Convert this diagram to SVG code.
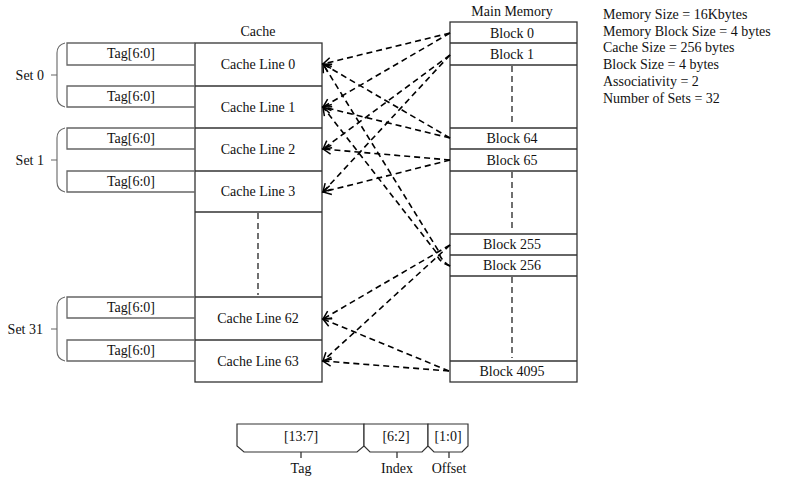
<svg xmlns="http://www.w3.org/2000/svg" width="800" height="483" viewBox="0 0 800 483">
<defs>
<marker id="arr" markerUnits="userSpaceOnUse" markerWidth="14" markerHeight="14" viewBox="-10 -7 12 14" refX="0" refY="0" orient="auto">
<path d="M-8,-4.5 L0,0 L-8,4.5" fill="none" stroke="#000" stroke-width="1.5"/>
</marker>
</defs>
<style>
text{font-family:"Liberation Serif","DejaVu Serif",serif;font-size:14px;fill:#111}
.c{text-anchor:middle}
.box{fill:#fff;stroke:#333;stroke-width:1.3}
.tag{fill:none;stroke:#666;stroke-width:1.3}
.sep{stroke:#333;stroke-width:1.3}
.vd{stroke:#111;stroke-width:1.2;stroke-dasharray:6 4;fill:none}
.br{fill:none;stroke:#666;stroke-width:1.1}
.cn{fill:none;stroke:#000;stroke-width:1.6;stroke-dasharray:6 4;marker-end:url(#arr)}
.fld{fill:#fff;stroke:#333;stroke-width:1.2}
</style>
<rect width="800" height="483" fill="#fff"/>

<g id="cache">
<text class="c" x="258" y="36">Cache</text>
<rect class="box" x="195" y="43" width="127" height="339"/>
<line class="sep" x1="195" y1="86" x2="322" y2="86"/>
<line class="sep" x1="195" y1="128" x2="322" y2="128"/>
<line class="sep" x1="195" y1="171" x2="322" y2="171"/>
<line class="sep" x1="195" y1="212" x2="322" y2="212"/>
<line class="sep" x1="195" y1="297" x2="322" y2="297"/>
<line class="sep" x1="195" y1="340" x2="322" y2="340"/>
<line class="vd" x1="258" y1="213" x2="258" y2="295"/>
</g>
<g id="cache-line-0"><text class="c" x="258" y="69">Cache Line 0</text></g>
<g id="cache-line-1"><text class="c" x="258" y="112">Cache Line 1</text></g>
<g id="cache-line-2"><text class="c" x="258" y="154">Cache Line 2</text></g>
<g id="cache-line-3"><text class="c" x="258" y="196">Cache Line 3</text></g>
<g id="cache-line-62"><text class="c" x="258" y="323">Cache Line 62</text></g>
<g id="cache-line-63"><text class="c" x="258" y="366">Cache Line 63</text></g>

<g id="tags">
<path class="tag" d="M195,43 H67 V65 H195"/><text class="c" x="131" y="58">Tag[6:0]</text>
<path class="tag" d="M195,86 H67 V107 H195"/><text class="c" x="131" y="101">Tag[6:0]</text>
<path class="tag" d="M195,128 H67 V149 H195"/><text class="c" x="131" y="143">Tag[6:0]</text>
<path class="tag" d="M195,171 H67 V192 H195"/><text class="c" x="131" y="186">Tag[6:0]</text>
<path class="tag" d="M195,297 H67 V318 H195"/><text class="c" x="131" y="312">Tag[6:0]</text>
<path class="tag" d="M195,340 H67 V361 H195"/><text class="c" x="131" y="355">Tag[6:0]</text>
</g>

<g id="set-0">
<path class="br" d="M65,43 Q57,45 57,53 V97 Q57,105 65,107 M51,75 H57"/>
<text x="44" y="80" text-anchor="end">Set 0</text>
</g>
<g id="set-1">
<path class="br" d="M65,128 Q57,130 57,138 V182 Q57,190 65,192 M51,160 H57"/>
<text x="44" y="165" text-anchor="end">Set 1</text>
</g>
<g id="set-31">
<path class="br" d="M65,297 Q57,299 57,307 V351 Q57,359 65,361 M51,329 H57"/>
<text x="43" y="334" text-anchor="end">Set 31</text>
</g>

<g id="main-memory">
<text class="c" x="512" y="16">Main Memory</text>
<rect class="box" x="450" y="22" width="127" height="360"/>
<line class="sep" x1="450" y1="43" x2="577" y2="43"/>
<line class="sep" x1="450" y1="65" x2="577" y2="65"/>
<line class="sep" x1="450" y1="128" x2="577" y2="128"/>
<line class="sep" x1="450" y1="149" x2="577" y2="149"/>
<line class="sep" x1="450" y1="171" x2="577" y2="171"/>
<line class="sep" x1="450" y1="234" x2="577" y2="234"/>
<line class="sep" x1="450" y1="255" x2="577" y2="255"/>
<line class="sep" x1="450" y1="276" x2="577" y2="276"/>
<line class="sep" x1="450" y1="361" x2="577" y2="361"/>
<line class="vd" x1="512" y1="66" x2="512" y2="125"/>
<line class="vd" x1="512" y1="172" x2="512" y2="231"/>
<line class="vd" x1="512" y1="277" x2="512" y2="358"/>
</g>
<g id="block-0"><text class="c" x="512" y="38">Block 0</text></g>
<g id="block-1"><text class="c" x="512" y="59">Block 1</text></g>
<g id="block-64"><text class="c" x="512" y="143">Block 64</text></g>
<g id="block-65"><text class="c" x="512" y="165">Block 65</text></g>
<g id="block-255"><text class="c" x="512" y="249">Block 255</text></g>
<g id="block-256"><text class="c" x="512" y="270">Block 256</text></g>
<g id="block-4095"><text class="c" x="512" y="376">Block 4095</text></g>

<g id="connectors">
<path class="cn" d="M450,33 L323,64"/>
<path class="cn" d="M450,33 L323,107"/>
<path class="cn" d="M450,55 L323,149"/>
<path class="cn" d="M450,55 L323,192"/>
<path class="cn" d="M450,138 L323,64"/>
<path class="cn" d="M450,138 L323,107"/>
<path class="cn" d="M450,160 L323,149"/>
<path class="cn" d="M450,160 L323,192"/>
<path class="cn" d="M450,266 Q440,260 438,250 L323,64"/>
<path class="cn" d="M450,266 Q438,262 436,252 L323,107"/>
<path class="cn" d="M450,245 L323,319"/>
<path class="cn" d="M450,245 L323,361"/>
<path class="cn" d="M449,371 L323,319"/>
<path class="cn" d="M449,371 L323,361"/>
</g>

<g id="info">
<text x="603" y="19">Memory Size = 16Kbytes</text>
<text x="603" y="36">Memory Block Size = 4 bytes</text>
<text x="603" y="52">Cache Size = 256 bytes</text>
<text x="603" y="69">Block Size = 4 bytes</text>
<text x="603" y="86">Associativity = 2</text>
<text x="603" y="103">Number of Sets = 32</text>
</g>

<g id="field-tag">
<path class="fld" d="M237,424 H364 V446 L357,452 H244 L237,446 Z"/>
<line class="sep" x1="301" y1="452" x2="301" y2="458"/>
<text class="c" x="301" y="441">[13:7]</text>
<text class="c" x="301" y="473">Tag</text>
</g>
<g id="field-index">
<path class="fld" d="M364,424 H428 V446 L422,452 H370 L364,446 Z"/>
<line class="sep" x1="397" y1="452" x2="397" y2="458"/>
<text class="c" x="396" y="441">[6:2]</text>
<text class="c" x="397" y="473">Index</text>
</g>
<g id="field-offset">
<path class="fld" d="M428,424 H468 V446 L462,452 H434 L428,446 Z"/>
<line class="sep" x1="449" y1="452" x2="449" y2="458"/>
<text class="c" x="448" y="441">[1:0]</text>
<text class="c" x="449" y="473">Offset</text>
</g>
</svg>
